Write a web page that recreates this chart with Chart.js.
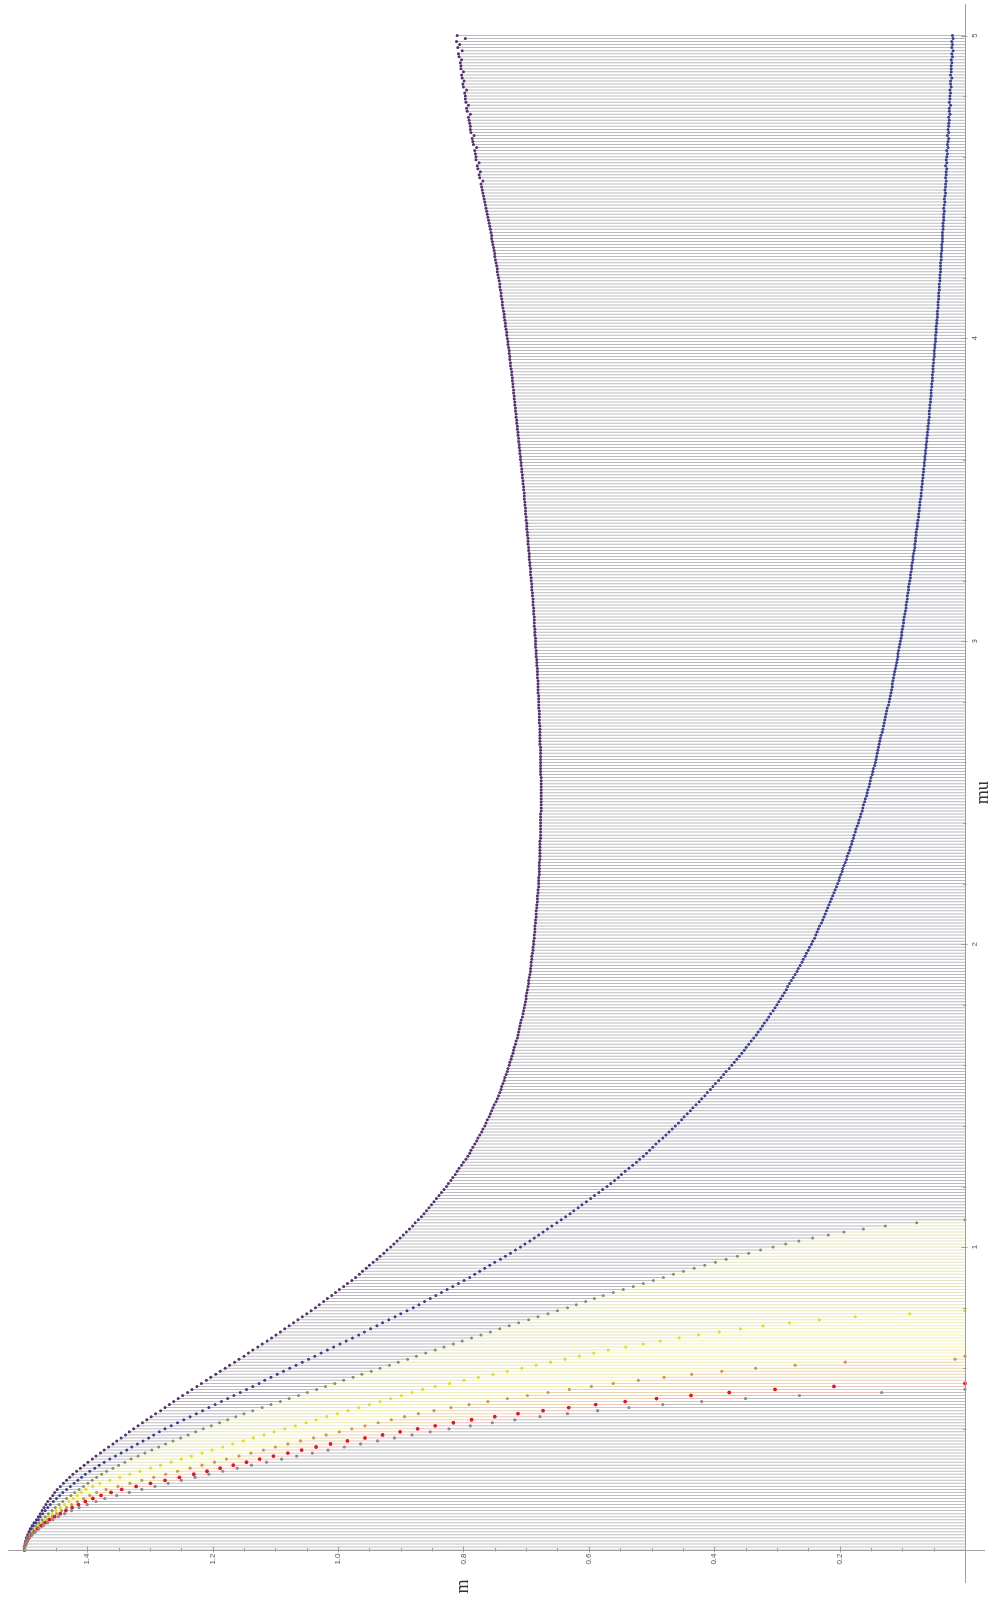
<!DOCTYPE html>
<html>
<head>
<meta charset="utf-8">
<script src="https://cdn.jsdelivr.net/npm/chart.js@4.4.0/dist/chart.umd.min.js"></script>
<style>
  html, body { margin: 0; padding: 0; background: #fff; }
  canvas { display: block; }
</style>
</head>
<body>
<canvas id="chart" width="989" height="1600"></canvas>
<script>
// Branches of m(mu), tabulated on a uniform mu grid starting at mu = 0.
const MU_STEP = 0.01;

const mPurple = [
1.500,1.500,1.499,1.498,1.497,1.495,1.493,1.491,1.488,1.485,1.481,
1.478,1.475,1.472,1.469,1.466,1.463,1.459,1.455,1.452,1.448,
1.443,1.438,1.433,1.428,1.423,1.417,1.411,1.405,1.399,1.392,
1.386,1.379,1.373,1.366,1.359,1.353,1.346,1.339,1.333,1.326,
1.319,1.312,1.305,1.298,1.291,1.283,1.276,1.269,1.262,1.255,
1.248,1.240,1.233,1.225,1.218,1.210,1.203,1.195,1.188,1.180,
1.173,1.165,1.158,1.150,1.143,1.136,1.128,1.121,1.113,1.106,
1.099,1.092,1.085,1.078,1.071,1.064,1.057,1.050,1.043,1.036,
1.030,1.023,1.017,1.010,1.004,0.998,0.991,0.985,0.978,0.972,
0.966,0.961,0.955,0.950,0.944,0.938,0.933,0.927,0.922,0.916,
0.911,0.906,0.901,0.896,0.891,0.886,0.881,0.877,0.872,0.867,
0.863,0.859,0.855,0.851,0.847,0.843,0.839,0.835,0.831,0.827,
0.824,0.820,0.817,0.813,0.810,0.807,0.803,0.800,0.796,0.793,
0.790,0.788,0.785,0.782,0.779,0.777,0.774,0.771,0.769,0.766,
0.764,0.762,0.759,0.757,0.755,0.753,0.751,0.748,0.746,0.744,
0.742,0.740,0.739,0.737,0.735,0.734,0.732,0.730,0.729,0.727,
0.726,0.724,0.723,0.721,0.720,0.719,0.717,0.716,0.714,0.713,
0.712,0.711,0.710,0.709,0.708,0.706,0.705,0.704,0.703,0.702,
0.701,0.700,0.700,0.699,0.698,0.697,0.696,0.696,0.695,0.694,
0.693,0.693,0.692,0.692,0.691,0.691,0.690,0.689,0.689,0.688,
0.688,0.687,0.687,0.686,0.686,0.686,0.685,0.685,0.684,0.684,
0.684,0.683,0.683,0.682,0.682,0.682,0.681,0.681,0.680,0.680,
0.680,0.680,0.679,0.679,0.679,0.679,0.679,0.678,0.678,0.678,
0.678,0.678,0.678,0.678,0.677,0.677,0.677,0.677,0.677,0.677,
0.677,0.677,0.677,0.676,0.676,0.676,0.676,0.676,0.676,0.676,
0.676,0.676,0.676,0.676,0.676,0.677,0.677,0.677,0.677,0.677,
0.677,0.677,0.677,0.677,0.677,0.678,0.678,0.678,0.678,0.678,
0.678,0.678,0.679,0.679,0.679,0.679,0.679,0.680,0.680,0.680,
0.680,0.680,0.681,0.681,0.681,0.681,0.681,0.682,0.682,0.682,
0.682,0.683,0.683,0.683,0.684,0.684,0.684,0.685,0.685,0.685,
0.685,0.686,0.686,0.686,0.687,0.687,0.687,0.687,0.688,0.688,
0.688,0.689,0.689,0.689,0.690,0.690,0.691,0.691,0.691,0.692,
0.692,0.693,0.693,0.693,0.694,0.694,0.695,0.695,0.695,0.696,
0.696,0.697,0.697,0.697,0.698,0.698,0.699,0.699,0.699,0.700,
0.700,0.701,0.701,0.701,0.702,0.702,0.703,0.703,0.703,0.704,
0.704,0.705,0.705,0.706,0.706,0.707,0.707,0.708,0.708,0.709,
0.709,0.710,0.710,0.711,0.711,0.712,0.712,0.713,0.713,0.714,
0.714,0.715,0.715,0.716,0.716,0.717,0.717,0.718,0.718,0.719,
0.719,0.720,0.720,0.721,0.721,0.722,0.722,0.723,0.723,0.724,
0.725,0.725,0.726,0.726,0.727,0.727,0.728,0.729,0.729,0.730,
0.731,0.731,0.732,0.733,0.733,0.734,0.735,0.735,0.736,0.737,
0.738,0.738,0.739,0.740,0.740,0.741,0.742,0.742,0.743,0.744,
0.745,0.746,0.746,0.747,0.748,0.749,0.750,0.750,0.751,0.752,
0.753,0.754,0.755,0.755,0.756,0.757,0.758,0.759,0.760,0.761,
0.762,0.763,0.764,0.765,0.766,0.767,0.768,0.769,0.770,0.771,
0.772,0.769,0.774,0.775,0.773,0.777,0.778,0.775,0.780,0.780,
0.781,0.782,0.779,0.784,0.785,0.786,0.783,0.788,0.789,0.789,
0.790,0.791,0.792,0.789,0.794,0.795,0.792,0.796,0.797,0.797,
0.798,0.795,0.800,0.801,0.799,0.802,0.803,0.800,0.804,0.804,
0.805,0.803,0.807,0.808,0.802,0.809,0.806,0.811,0.797,0.810
];

const mBlue = [
1.500,1.500,1.499,1.498,1.496,1.494,1.492,1.489,1.486,1.482,1.478,
1.475,1.471,1.467,1.463,1.459,1.454,1.449,1.444,1.439,1.433,
1.427,1.421,1.415,1.409,1.403,1.396,1.388,1.381,1.373,1.364,
1.355,1.346,1.337,1.329,1.320,1.311,1.302,1.294,1.285,1.276,
1.266,1.256,1.246,1.236,1.226,1.216,1.206,1.196,1.186,1.176,
1.166,1.156,1.146,1.136,1.126,1.117,1.107,1.097,1.087,1.077,
1.067,1.057,1.047,1.037,1.027,1.017,1.007,0.997,0.987,0.977,
0.967,0.958,0.948,0.938,0.929,0.919,0.909,0.900,0.890,0.880,
0.871,0.862,0.853,0.844,0.835,0.826,0.817,0.808,0.799,0.790,
0.782,0.774,0.766,0.758,0.750,0.741,0.733,0.725,0.717,0.709,
0.702,0.694,0.687,0.680,0.673,0.666,0.659,0.651,0.644,0.637,
0.630,0.624,0.617,0.611,0.604,0.597,0.591,0.584,0.578,0.571,
0.565,0.559,0.553,0.548,0.542,0.536,0.530,0.524,0.519,0.513,
0.508,0.503,0.498,0.493,0.488,0.482,0.477,0.472,0.467,0.462,
0.457,0.452,0.448,0.443,0.438,0.434,0.429,0.424,0.420,0.415,
0.411,0.406,0.402,0.398,0.393,0.389,0.385,0.381,0.376,0.372,
0.368,0.364,0.360,0.356,0.352,0.349,0.345,0.341,0.337,0.333,
0.330,0.326,0.323,0.320,0.316,0.313,0.310,0.306,0.303,0.300,
0.297,0.294,0.291,0.288,0.285,0.283,0.280,0.277,0.274,0.271,
0.268,0.266,0.263,0.260,0.258,0.255,0.253,0.250,0.248,0.245,
0.243,0.240,0.238,0.236,0.234,0.232,0.229,0.227,0.225,0.223,
0.221,0.219,0.217,0.215,0.213,0.211,0.209,0.207,0.205,0.203,
0.201,0.200,0.198,0.196,0.195,0.193,0.191,0.189,0.188,0.186,
0.184,0.183,0.181,0.180,0.178,0.177,0.175,0.174,0.172,0.170,
0.169,0.167,0.166,0.164,0.163,0.162,0.160,0.159,0.157,0.156,
0.155,0.153,0.152,0.151,0.150,0.148,0.147,0.146,0.144,0.143,
0.142,0.141,0.140,0.139,0.138,0.137,0.136,0.135,0.134,0.132,
0.131,0.130,0.129,0.128,0.127,0.126,0.125,0.124,0.122,0.121,
0.120,0.119,0.118,0.117,0.116,0.116,0.115,0.114,0.113,0.112,
0.111,0.110,0.109,0.108,0.107,0.107,0.106,0.105,0.104,0.103,
0.102,0.101,0.101,0.100,0.099,0.098,0.098,0.097,0.096,0.095,
0.094,0.094,0.093,0.092,0.092,0.091,0.090,0.090,0.089,0.088,
0.087,0.087,0.086,0.085,0.085,0.084,0.083,0.083,0.082,0.081,
0.080,0.080,0.079,0.079,0.078,0.078,0.077,0.076,0.076,0.075,
0.074,0.074,0.073,0.073,0.072,0.072,0.071,0.070,0.070,0.069,
0.069,0.068,0.068,0.067,0.067,0.066,0.066,0.065,0.065,0.064,
0.064,0.063,0.063,0.062,0.062,0.061,0.061,0.060,0.060,0.059,
0.059,0.058,0.058,0.057,0.057,0.057,0.056,0.056,0.055,0.055,
0.054,0.054,0.054,0.053,0.053,0.052,0.052,0.052,0.051,0.051,
0.051,0.050,0.050,0.049,0.049,0.049,0.048,0.048,0.047,0.047,
0.047,0.046,0.046,0.046,0.045,0.045,0.044,0.044,0.044,0.043,
0.043,0.043,0.042,0.042,0.042,0.041,0.041,0.041,0.040,0.040,
0.040,0.039,0.039,0.039,0.039,0.038,0.038,0.038,0.037,0.037,
0.037,0.036,0.036,0.036,0.036,0.035,0.035,0.035,0.034,0.034,
0.034,0.033,0.034,0.033,0.032,0.033,0.032,0.031,0.032,0.031,
0.031,0.030,0.031,0.030,0.030,0.029,0.031,0.029,0.030,0.029,
0.028,0.029,0.027,0.028,0.027,0.026,0.028,0.026,0.027,0.026,
0.026,0.025,0.026,0.024,0.025,0.025,0.023,0.025,0.024,0.024,
0.023,0.024,0.022,0.023,0.023,0.021,0.023,0.022,0.022,0.022,
0.021,0.022,0.020,0.021,0.019,0.021,0.020,0.021,0.019,0.020
];

const mOlive = [
1.500,1.500,1.499,1.497,1.495,1.492,1.489,1.485,1.481,1.477,1.472,
1.467,1.462,1.456,1.451,1.445,1.439,1.433,1.426,1.420,1.413,
1.406,1.399,1.392,1.385,1.377,1.369,1.359,1.350,1.340,1.330,
1.319,1.308,1.297,1.286,1.275,1.263,1.251,1.239,1.227,1.215,
1.202,1.189,1.176,1.163,1.150,1.136,1.121,1.107,1.092,1.078,
1.063,1.049,1.034,1.020,1.005,0.991,0.976,0.962,0.947,0.933,
0.918,0.904,0.889,0.875,0.860,0.845,0.831,0.816,0.802,0.787,
0.772,0.757,0.742,0.727,0.712,0.696,0.681,0.665,0.650,0.634,
0.620,0.605,0.591,0.577,0.561,0.545,0.529,0.513,0.497,0.481,
0.465,0.449,0.432,0.415,0.398,0.381,0.363,0.345,0.326,0.306,
0.286,0.265,0.243,0.218,0.193,0.162,0.127,0.077,0.000
];

const mYellow = [
1.500,1.500,1.499,1.497,1.494,1.491,1.487,1.483,1.478,1.473,1.468,
1.462,1.456,1.450,1.443,1.436,1.429,1.422,1.416,1.409,1.402,
1.391,1.380,1.364,1.348,1.332,1.316,1.299,1.283,1.266,1.250,
1.234,1.217,1.201,1.184,1.168,1.151,1.135,1.118,1.102,1.085,
1.068,1.051,1.035,1.018,1.001,0.984,0.967,0.950,0.933,0.916,
0.899,0.882,0.865,0.845,0.822,0.799,0.776,0.753,0.730,0.707,
0.684,0.661,0.638,0.615,0.592,0.569,0.541,0.513,0.486,0.456,
0.425,0.392,0.358,0.322,0.280,0.232,0.175,0.088,0.000
];

const mOrange = [
1.500,1.500,1.499,1.497,1.494,1.490,1.486,1.481,1.476,1.470,1.463,
1.456,1.449,1.441,1.433,1.425,1.416,1.406,1.396,1.385,1.370,
1.351,1.332,1.313,1.294,1.275,1.256,1.236,1.217,1.197,1.178,
1.158,1.139,1.119,1.100,1.080,1.060,1.039,1.019,0.998,0.978,
0.957,0.936,0.915,0.894,0.872,0.847,0.820,0.791,0.761,0.730,
0.698,0.665,0.631,0.596,0.561,0.521,0.480,0.436,0.388,0.334,
0.271,0.191,0.016,0.000
];

const mRed = [
1.500,1.500,1.498,1.496,1.493,1.489,1.484,1.479,1.473,1.467,1.460,
1.452,1.443,1.434,1.424,1.414,1.403,1.391,1.378,1.362,1.345,
1.322,1.299,1.276,1.253,1.230,1.209,1.188,1.167,1.146,1.125,
1.103,1.080,1.058,1.035,1.012,0.985,0.957,0.929,0.901,0.873,
0.845,0.816,0.787,0.750,0.713,0.673,0.632,0.589,0.542,0.492,
0.437,0.376,0.303,0.209,0.000
];

const mGrey = [
1.500,1.500,1.498,1.496,1.492,1.488,1.483,1.477,1.470,1.463,1.455,
1.446,1.436,1.425,1.413,1.400,1.386,1.372,1.353,1.333,1.313,
1.292,1.271,1.250,1.228,1.206,1.184,1.161,1.138,1.114,1.090,
1.066,1.041,1.016,0.990,0.964,0.937,0.910,0.882,0.853,0.823,
0.789,0.754,0.718,0.678,0.634,0.586,0.536,0.482,0.420,0.350,
0.264,0.133,0.000
];

// Axis ticks and labels
const mTickValues = [0.2, 0.4, 0.6, 0.8, 1.0, 1.2, 1.4];
const mTickLabels = ['0.2', '0.4', '0.6', '0.8', '1.0', '1.2', '1.4'];
const muTickValues = [1, 2, 3, 4, 5];
const muTickLabels = ['1', '2', '3', '4', '5'];
const mTitle = 'm';
const muTitle = 'mu';

// Branch styles, ordered from the highest branch to the lowest
const branches = [
  { label: 'branch 1', values: mPurple, dot: '#54306c', fill: 'rgb(188,187,192)', radius: 1.5 },
  { label: 'branch 2', values: mBlue,   dot: '#3b3e8a', fill: 'rgb(184,184,194)', radius: 1.5 },
  { label: 'branch 3', values: mOlive,  dot: '#868f66', fill: 'rgb(228,228,190)', radius: 1.5 },
  { label: 'branch 4', values: mYellow, dot: '#e2da36', fill: 'rgb(241,239,176)', radius: 1.6 },
  { label: 'branch 5', values: mOrange, dot: '#c79955', fill: 'rgb(236,212,172)', radius: 1.6 },
  { label: 'branch 6', values: mRed,    dot: '#cf1f2d', fill: 'rgb(236,192,190)', radius: 1.9 },
  { label: 'branch 7', values: mGrey,   dot: '#8a8a8a', fill: 'rgb(192,192,194)', radius: 1.6 }
];

const muAt = i => Math.round(i * MU_STEP * 100) / 100;

function toPoints(values) {
  return values.map((m, i) => ({ x: m, y: muAt(i) }));
}

// Filling of a branch runs from its point down to the next lower branch at the same mu,
// or to the mu axis (m = 0) when no lower branch is left.
function fillSpans(k) {
  return branches[k].values.map((m, i) => {
    let lower = 0;
    for (let j = k + 1; j < branches.length; j++) {
      const v = branches[j].values[i];
      if (v !== undefined) { lower = v; break; }
    }
    return { x: [lower, m], y: muAt(i) };
  });
}

// Chart.js paints dataset 0 last, so the dot list is reversed to keep lower branches on top
const dotSets = branches.map(b => ({
  type: 'scatter',
  label: b.label,
  data: toPoints(b.values),
  pointRadius: b.radius,
  pointBorderWidth: 0,
  pointBackgroundColor: b.dot,
  showLine: false
})).reverse();

const fillSets = branches.map((b, k) => ({
  type: 'bar',
  label: b.label + ' filling',
  indexAxis: 'y',
  data: fillSpans(k),
  backgroundColor: b.fill,
  borderWidth: 0,
  barThickness: 1,
  inflateAmount: 0,
  grouped: false
}));

const crossAxes = {
  id: 'crossAxes',
  afterDatasetsDraw(chart) {
    const { ctx } = chart;
    const xs = chart.scales.x, ys = chart.scales.y;
    const x0 = Math.round(xs.getPixelForValue(0)) + 0.5;
    const y0 = Math.round(ys.getPixelForValue(0)) + 0.5;
    ctx.save();
    ctx.strokeStyle = '#9e9e9e';
    ctx.lineWidth = 1;
    ctx.beginPath();
    ctx.moveTo(xs.left, y0); ctx.lineTo(xs.right, y0);
    ctx.moveTo(x0, ys.top); ctx.lineTo(x0, ys.bottom);
    // m ticks (minor every 0.05, major every 0.2)
    for (let k = 1; k <= 30; k++) {
      const v = k * 0.05;
      const px = Math.round(xs.getPixelForValue(v)) + 0.5;
      const major = k % 4 === 0;
      ctx.moveTo(px, y0 - (major ? 4 : 2.5));
      ctx.lineTo(px, y0 + (major ? 2 : 1));
    }
    // mu ticks (minor every 0.2, major every 1)
    for (let k = 1; k <= 25; k++) {
      const v = k * 0.2;
      const py = Math.round(ys.getPixelForValue(v)) + 0.5;
      const major = k % 5 === 0;
      ctx.moveTo(x0 - (major ? 4 : 2.5), py);
      ctx.lineTo(x0 + (major ? 2 : 1), py);
    }
    ctx.stroke();

    ctx.fillStyle = '#555';
    ctx.font = '8px "Liberation Sans", Arial, sans-serif';
    mTickValues.forEach((v, i) => {
      const px = xs.getPixelForValue(v);
      ctx.save();
      ctx.translate(px, y0 + 3);
      ctx.rotate(-Math.PI / 2);
      ctx.textAlign = 'right';
      ctx.textBaseline = 'middle';
      ctx.fillText(mTickLabels[i], 0, 0);
      ctx.restore();
    });
    muTickValues.forEach((v, i) => {
      const py = ys.getPixelForValue(v);
      ctx.save();
      ctx.translate(x0 + 5, py);
      ctx.rotate(-Math.PI / 2);
      ctx.textAlign = 'center';
      ctx.textBaseline = 'top';
      ctx.fillText(muTickLabels[i], 0, 0);
      ctx.restore();
    });

    ctx.fillStyle = '#333';
    ctx.font = '18px "Liberation Serif", "Times New Roman", serif';
    ctx.save();
    ctx.translate(xs.getPixelForValue(0.8), y0 + 36);
    ctx.rotate(-Math.PI / 2);
    ctx.textAlign = 'center';
    ctx.textBaseline = 'middle';
    ctx.fillText(mTitle, 0, 0);
    ctx.restore();
    ctx.save();
    ctx.translate(x0 + 18, ys.getPixelForValue(2.5));
    ctx.rotate(-Math.PI / 2);
    ctx.textAlign = 'center';
    ctx.textBaseline = 'middle';
    ctx.fillText(muTitle, 0, 0);
    ctx.restore();
    ctx.restore();
  }
};

new Chart(document.getElementById('chart'), {
  type: 'scatter',
  data: { datasets: [...dotSets, ...fillSets] },
  options: {
    responsive: false,
    animation: false,
    events: [],
    layout: { padding: { left: 8, right: 4, top: 3, bottom: 17 } },
    plugins: { legend: { display: false }, tooltip: { enabled: false } },
    scales: {
      x: { type: 'linear', reverse: true, min: -0.0319, max: 1.5264, offset: false, grid: { offset: false }, display: false },
      y: { type: 'linear', min: -0.109, max: 5.104, offset: false, grid: { offset: false }, display: false }
    }
  },
  plugins: [crossAxes]
});
</script>
</body>
</html>
